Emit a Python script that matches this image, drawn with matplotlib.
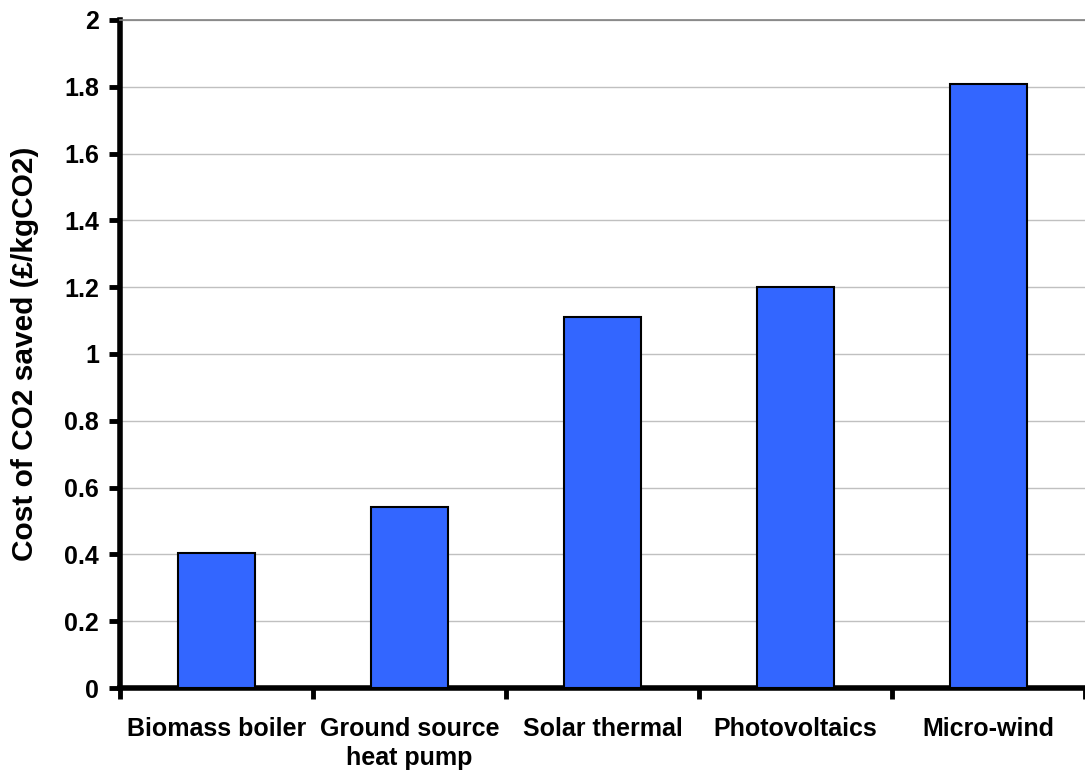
import matplotlib.pyplot as plt
import numpy as np

plt.rcParams['font.family'] = ['Liberation Sans', 'DejaVu Sans']
plt.rcParams['font.weight'] = 'bold'

technologies = ['Biomass boiler', 'Ground source\nheat pump', 'Solar thermal',
                'Photovoltaics', 'Micro-wind']
cost_per_kg = [0.405, 0.542, 1.112, 1.2, 1.807]
y_ticks = [0, 0.2, 0.4, 0.6, 0.8, 1, 1.2, 1.4, 1.6, 1.8, 2]
y_tick_labels = ['0', '0.2', '0.4', '0.6', '0.8', '1', '1.2', '1.4', '1.6', '1.8', '2']

fig = plt.figure(figsize=(10.85, 7.74), dpi=100)
ax = fig.add_axes([0.1106, 0.1111, 0.8894, 0.8631])

x = np.arange(len(technologies))
ax.bar(x, cost_per_kg, width=0.4, color='#3366FF', edgecolor='black',
       linewidth=1.5, zorder=3)

ax.set_xlim(-0.5, len(technologies) - 0.5)
ax.set_ylim(0, 2)

# gridlines
ax.set_yticks(y_ticks)
ax.set_yticklabels(y_tick_labels, fontsize=18, fontweight='bold')
ax.yaxis.grid(True, color='#C0C0C0', linewidth=1, zorder=0)
ax.set_axisbelow(True)

# category labels at centres, tick marks between categories
ax.set_xticks(x)
ax.set_xticklabels(technologies, fontsize=18, fontweight='bold', linespacing=1.25)
ax.tick_params(axis='x', which='major', length=0, pad=21)
ax.set_xticks(np.arange(len(technologies) + 1) - 0.5, minor=True)
ax.tick_params(axis='x', which='minor', length=8, width=3.5, direction='out')
ax.tick_params(axis='y', which='major', length=8, width=3.5, direction='out', pad=7)

for side in ['left', 'bottom']:
    ax.spines[side].set_linewidth(4)
ax.spines['top'].set_color('#808080')
ax.spines['top'].set_linewidth(1.2)
ax.spines['right'].set_visible(False)

ax.set_ylabel('Cost of CO2 saved (£/kgCO2)', fontsize=21.5, fontweight='bold')
ax.yaxis.set_label_coords(-0.084, 0.5)

fig.savefig('out.png', dpi=100)
